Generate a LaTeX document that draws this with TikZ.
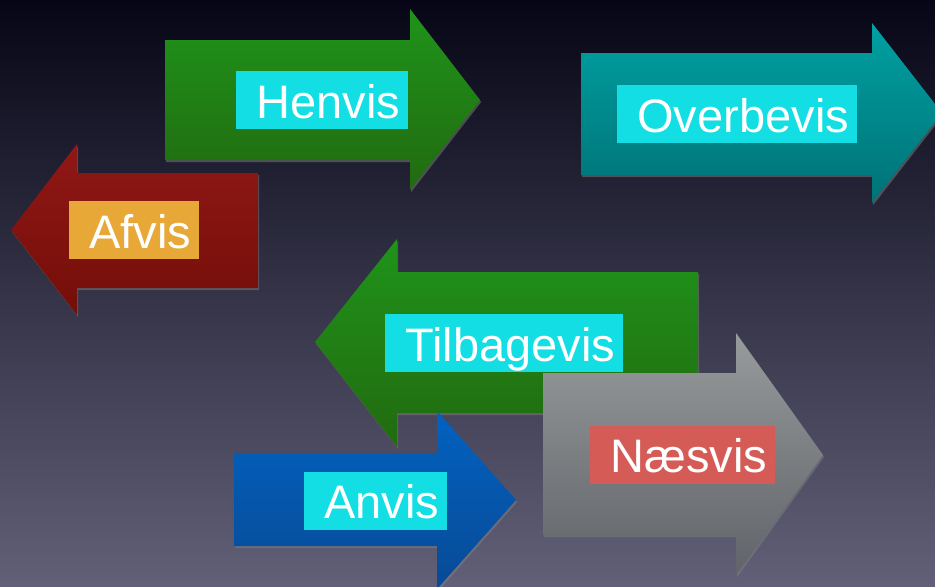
\documentclass[tikz,border=0pt]{standalone}
\usepackage{fontspec}
\setmainfont{Liberation Sans}
\usetikzlibrary{shadows}
\definecolor{bgtop}{RGB}{6,6,22}
\definecolor{bgmid}{RGB}{40,40,72}
\definecolor{bgbot}{RGB}{98,96,120}
\definecolor{greentop}{RGB}{31,148,26}
\definecolor{greenbot}{RGB}{34,106,16}
\definecolor{redtop}{RGB}{144,24,22}
\definecolor{redbot}{RGB}{116,14,8}
\definecolor{tealtop}{RGB}{0,160,162}
\definecolor{tealbot}{RGB}{0,114,118}
\definecolor{greytop}{RGB}{152,155,156}
\definecolor{greybot}{RGB}{96,99,104}
\definecolor{bluetop}{RGB}{2,98,192}
\definecolor{bluebot}{RGB}{8,74,150}
\definecolor{tagcyan}{RGB}{18,222,228}
\definecolor{tagorange}{RGB}{232,168,56}
\definecolor{tagred}{RGB}{213,92,86}
\tikzset{
  arrowshadow/.style={drop shadow={opacity=0.5,shadow xshift=0.6pt,shadow yshift=-1pt}},
  greenarrow/.style={top color=greentop,bottom color=greenbot,arrowshadow},
  redarrow/.style={top color=redtop,bottom color=redbot,arrowshadow},
  tealarrow/.style={top color=tealtop,bottom color=tealbot,arrowshadow},
  greyarrow/.style={top color=greytop,bottom color=greybot,arrowshadow},
  bluearrow/.style={top color=bluetop,bottom color=bluebot,arrowshadow},
  tag/.style={fill=tagcyan,text=white,anchor=west,inner xsep=4pt,inner ysep=0pt,
    text height=23.5pt,text depth=5.5pt,font=\fontsize{23.5}{28}\selectfont}
}
\begin{document}
\begin{tikzpicture}[x=0.5pt,y=-0.5pt]
\useasboundingbox (0,0) rectangle (935,586);
\clip (0,0) rectangle (935,586);
\shade[top color=bgtop,middle color=bgmid,bottom color=bgbot] (0,0) rectangle (935,586);
% arrows
\shade[greenarrow] (165,40) -- (410,40) -- (410,9) -- (480,100) -- (410,190) -- (410,160) -- (165,160) -- cycle;
\shade[tealarrow] (581,53) -- (872,53) -- (872,23) -- (942,113) -- (872,203) -- (872,175) -- (581,175) -- cycle;
\shade[redarrow] (258,173) -- (77,173) -- (77,144) -- (11,230) -- (77,315) -- (77,288) -- (258,288) -- cycle;
\shade[greenarrow] (698,272) -- (397,272) -- (397,239) -- (315,342) -- (397,447) -- (397,413) -- (698,413) -- cycle;
\shade[greyarrow] (543,373) -- (736,373) -- (736,333) -- (823,455) -- (736,575) -- (736,535) -- (543,535) -- cycle;
\shade[bluearrow] (234,453) -- (437,453) -- (437,411) -- (516,500) -- (437,589) -- (437,546) -- (234,546) -- cycle;
% labels
\node[tag] (henvis) at (236,100) {\hspace*{6pt}Henvis};
\node[tag] (overbevis) at (617,114) {\hspace*{6pt}Overbevis};
\node[tag,fill=tagorange] (afvis) at (69,230) {\hspace*{6pt}Afvis};
\node[tag] (tilbagevis) at (385,343) {\hspace*{6pt}Tilbagevis};
\node[tag,fill=tagred] (naesvis) at (590,454.5) {\hspace*{6pt}Næsvis};
\node[tag] (anvis) at (304,500.5) {\hspace*{6pt}Anvis};
\end{tikzpicture}
\end{document}
